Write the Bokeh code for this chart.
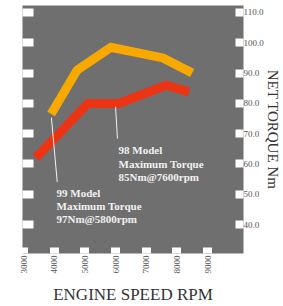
import math
from bokeh.plotting import figure
from bokeh.models import Range1d, LinearAxis, FixedTicker, PrintfTickFormatter
from bokeh.core.properties import value
from bokeh.embed import file_html
from bokeh.resources import INLINE

# ---- data ----
rpm_99 = [3900, 4750, 5850, 7550, 8500]
torque_99 = [76.5, 91.0, 98.5, 95.0, 90.0]
rpm_98 = [3400, 5100, 6100, 7650, 8400]
torque_98 = [62.0, 80.0, 80.0, 86.0, 83.8]
x_ticks = [3000, 4000, 5000, 6000, 7000, 8000, 9000]
y_ticks = [40, 50, 60, 70, 80, 90, 100, 110]

# annotation leaders and texts
lead_x0 = [3910, 6000]
lead_y0 = [75.3, 79.0]
lead_x1 = [4100, 6064]
lead_y1 = [54.0, 68.4]
note_x = [6097, 6097, 6097, 4076, 4076, 4076]
note_y = [64.5, 60.0, 55.7, 50.3, 46.0, 41.7]
note_text = ["98 Model", "Maximum Torque", "85Nm@7600rpm",
             "99 Model", "Maximum Torque", "97Nm@5800rpm"]

SERIF = "Liberation Serif"

p = figure(width=283, height=306,
           x_range=Range1d(2967, 10173), y_range=Range1d(30.46, 112.31),
           output_backend="svg", toolbar_location=None,
           x_axis_location=None, y_axis_location=None,
           min_border_left=22, min_border_right=40,
           min_border_top=5, min_border_bottom=53)
p.background_fill_color = "#6f6f6f"
p.border_fill_color = "white"
p.outline_line_color = None
p.xgrid.visible = False
p.ygrid.visible = False

def notch_axis(ticks, tin, width, **kw):
    ax = LinearAxis(ticker=FixedTicker(ticks=ticks), axis_line_color=None,
                    major_tick_line_color="white", major_tick_line_width=width,
                    major_tick_in=tin, major_tick_out=0,
                    minor_tick_line_color=None, **kw)
    return ax

ax_b = notch_axis(x_ticks, 6, 9,
                  major_label_orientation=math.pi / 2, major_label_standoff=2,
                  major_label_text_font=SERIF, major_label_text_font_size="9px",
                  major_label_text_color="#555555",
                  axis_label="ENGINE SPEED RPM", axis_label_standoff=8,
                  axis_label_text_font=SERIF, axis_label_text_font_size="17px",
                  axis_label_text_font_style="normal",
                  axis_label_text_color="#333333")
p.add_layout(ax_b, "below")

ax_l = notch_axis(y_ticks, 11, 8, major_label_standoff=0,
                  major_label_overrides={t: "" for t in y_ticks})
p.add_layout(ax_l, "left")

ax_r = notch_axis(y_ticks, 8, 8, major_label_standoff=0,
                  formatter=PrintfTickFormatter(format="%.1f"),
                  major_label_text_font=SERIF, major_label_text_font_size="9px",
                  major_label_text_color="#555555",
                  axis_label="NET TORQUE Nm", axis_label_standoff=-2,
                  axis_label_text_font=SERIF, axis_label_text_font_size="15px",
                  axis_label_text_font_style="normal",
                  axis_label_text_color="#333333")
p.add_layout(ax_r, "right")

p.line(rpm_98, torque_98, line_color="#ec3414", line_width=9,
       line_join="miter", line_cap="butt")
p.line(rpm_99, torque_99, line_color="#f7a900", line_width=9,
       line_join="miter", line_cap="butt")

p.segment(x0=lead_x0, y0=lead_y0, x1=lead_x1, y1=lead_y1,
          line_color="#f4f4f4", line_width=1)

p.text(x=note_x, y=note_y, text=note_text, text_font=value(SERIF),
       text_font_style="bold", text_font_size="11px", text_color="#f2f2f2",
       text_baseline="alphabetic", text_align="left")

open("out.html", "w").write(file_html(p, INLINE))
